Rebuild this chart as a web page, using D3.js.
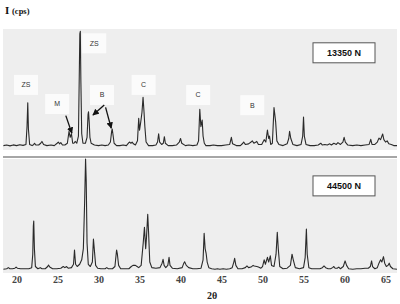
<!DOCTYPE html>
<html>
<head>
<meta charset="utf-8">
<script src="https://cdn.jsdelivr.net/npm/d3@7/dist/d3.min.js"></script>
<style>
  body { margin: 0; background: #fff; }
  svg { display: block; }
</style>
</head>
<body>
<script>
// diffractogram traces: [2theta, intensity (0-100)]
var topTrace = [[18.4,2],[18.8,2.5],[19.2,1.8],[19.6,2.6],[20.0,2],[20.4,2.8],[20.8,2.2],[21.15,3],[21.28,18],[21.37,38],[21.45,16],[21.6,3],[21.9,2],[22.1,3],[22.2,4],[22.35,2.5],[22.7,2.5],[22.95,4],[23.1,5.5],[23.3,3],[23.7,2],[24.2,2.5],[24.6,2],[24.95,4],[25.1,5],[25.25,3.5],[25.4,4.5],[25.6,2.5],[25.9,2.5],[26.2,4],[26.4,14],[26.55,9],[26.7,12],[26.85,4],[27.0,4],[27.15,5.5],[27.35,4],[27.55,10],[27.65,60],[27.72,96],[27.78,98],[27.85,55],[27.95,12],[28.1,4],[28.4,4],[28.6,9],[28.72,28],[28.78,30.5],[28.86,22],[28.95,9],[29.1,4],[29.5,2.5],[30.0,2],[30.4,2.5],[30.8,2],[31.2,2.5],[31.45,5],[31.6,14],[31.67,16],[31.75,12],[31.9,4],[32.2,2],[32.6,2],[33.0,2.5],[33.4,2],[33.7,4.5],[33.8,5],[33.95,4],[34.1,5],[34.25,3.5],[34.5,2.5],[34.75,6],[34.9,25],[35.0,15],[35.15,22],[35.3,30],[35.43,42.6],[35.55,30],[35.65,18],[35.8,5],[36.1,2],[36.6,2],[37.0,2.5],[37.2,5],[37.33,12],[37.45,5],[37.7,3],[37.9,4],[38.03,9.5],[38.15,4],[38.5,2],[39.0,2],[39.5,2.5],[39.85,5],[40.0,8],[40.15,4],[40.6,2],[41.0,2.5],[41.5,2],[42.0,2.5],[42.2,6],[42.35,32.5],[42.48,18],[42.64,23.5],[42.75,10],[42.9,4],[43.1,2],[43.6,2],[44.0,2.5],[44.5,2],[45.0,2],[45.5,2.5],[46.0,3],[46.2,9],[46.35,3.5],[46.8,2],[47.3,2],[47.6,4],[47.7,5],[47.9,3],[48.3,3.5],[48.6,5],[48.75,6],[48.95,4],[49.2,5],[49.3,5.5],[49.5,3],[49.9,3],[50.2,7],[50.4,5],[50.6,15],[50.75,8],[50.85,10],[51.0,3],[51.2,4],[51.4,34],[51.5,28],[51.6,22],[51.75,6],[52.0,3],[52.5,2],[53.0,3.5],[53.2,8],[53.3,14],[53.45,8],[53.7,3],[54.2,2],[54.7,3],[54.9,10],[55.0,26],[55.1,10],[55.3,3],[55.8,2],[56.3,2],[56.8,2.5],[57.1,4],[57.3,2.5],[57.6,3],[57.9,2.5],[58.2,3.5],[58.4,2.5],[58.7,4],[59.0,3],[59.2,4.5],[59.5,3],[59.8,5],[59.95,9],[60.1,5],[60.4,2.5],[61.0,2],[61.5,2.5],[62.0,2],[62.5,2.5],[63.0,3],[63.2,7.3],[63.35,3],[63.7,3],[64.0,5],[64.2,8.3],[64.4,7],[64.65,11.8],[64.8,7],[65.0,5],[65.2,6],[65.4,3.5],[65.7,3],[66.0,2],[66.4,2]];

var bottomTrace = [[18.4,1.5],[18.8,2],[19.0,3],[19.2,2],[19.5,2],[19.8,2.5],[19.95,3.5],[20.1,2.5],[20.5,2],[21.0,2],[21.5,2],[21.85,3],[21.98,15],[22.05,40],[22.1,44.6],[22.18,20],[22.3,4],[22.6,2],[22.9,3],[23.1,2],[23.5,2],[23.8,4],[23.9,5.4],[24.05,3.5],[24.4,2],[24.9,2],[25.4,2.5],[25.7,4],[25.9,3],[26.1,4],[26.3,2.5],[26.7,3],[26.95,6],[27.07,18.8],[27.2,6],[27.4,4],[27.7,6],[27.95,10],[28.15,20],[28.3,60],[28.42,100],[28.5,80],[28.6,25],[28.75,6],[29.0,4],[29.25,8],[29.38,28.6],[29.5,18],[29.65,5],[29.9,2.5],[30.3,2],[30.8,2],[31.0,3],[31.2,2],[31.7,2],[32.0,4],[32.2,18.8],[32.3,15],[32.45,5],[32.7,2],[33.2,2],[33.7,2],[34.0,4],[34.2,5],[34.5,5],[34.7,4],[34.9,3],[35.2,5],[35.45,25],[35.6,39],[35.75,20],[35.85,30],[36.0,50.6],[36.1,35],[36.25,8],[36.5,3],[37.0,2.5],[37.5,3],[37.75,7],[37.87,10.4],[38.0,5],[38.2,3],[38.45,5],[38.6,12.2],[38.72,5],[39.0,2.5],[39.6,2],[40.2,3],[40.4,7],[40.5,8.3],[40.7,5],[41.0,3],[41.5,2],[42.0,2],[42.5,2.5],[42.75,10],[42.88,33.6],[43.0,20],[43.12,15.8],[43.25,8],[43.45,3],[43.8,2],[44.2,1.5],[44.5,2],[44.8,1.5],[45.2,2],[45.6,1.5],[46.0,2],[46.3,3],[46.5,8],[46.6,11.3],[46.75,5],[47.0,2],[47.5,2],[47.9,3],[48.1,4.5],[48.3,3],[48.6,3.5],[48.85,5],[49.0,4.5],[49.3,4],[49.5,3.5],[49.8,2.5],[50.0,4],[50.2,10],[50.35,6],[50.6,12.2],[50.75,8],[50.95,13.5],[51.1,5],[51.4,4],[51.65,15],[51.8,34.5],[51.92,20],[52.1,4],[52.5,2],[53.0,2.5],[53.4,5],[53.6,15],[53.75,10],[54.0,3],[54.5,2],[55.0,3],[55.2,12],[55.35,37.5],[55.45,15],[55.65,3],[56.0,2],[56.5,2],[57.0,2],[57.3,3],[57.5,4.5],[57.7,3],[58.0,2],[58.3,2],[58.55,3],[58.7,4],[58.85,2.5],[59.1,2.5],[59.3,3.5],[59.5,2],[59.85,4],[60.07,9],[60.25,5],[60.5,2],[61.0,1.5],[61.5,2],[62.0,2],[62.5,2.5],[62.9,2.5],[63.15,4],[63.3,9],[63.42,4],[63.7,2],[64.0,3],[64.2,7],[64.4,10],[64.55,8],[64.75,12.8],[64.9,7],[65.1,4],[65.3,5],[65.45,7],[65.6,4],[65.9,2],[66.4,1.5]];

var xTicks = [20, 25, 30, 35, 40, 45, 50, 55, 60, 65];
var panelNames = ["13350 N", "44500 N"];

// phase labels on the upper trace: [text, 2theta, intensity]
var phaseLabels = [["ZS",21.16,53],["M",24.95,37],["ZS",29.47,88],["B",30.42,44.5],["C",35.5,53],["C",42.15,44.5],["B",48.75,36]];
// arrows: [from 2theta, from I, to 2theta, to I]
var phaseArrows = [[26.01,27.2,26.75,12.4],[30.7,36.1,29.32,27.7],[30.86,34.2,31.55,16.6]];

var W = 400, H = 304;
var svg = d3.select("body").append("svg").attr("width", W).attr("height", H);

var x = d3.scaleLinear().domain([18.35, 66.4]).range([3, 397]);
var yTop = d3.scaleLinear().domain([0, 100]).range([148, 29]);
var yBot = d3.scaleLinear().domain([0, 100]).range([271, 159]);

svg.append("defs").append("marker")
    .attr("id", "head").attr("viewBox", "0 0 10 10")
    .attr("refX", 9).attr("refY", 5)
    .attr("markerWidth", 5).attr("markerHeight", 5)
    .attr("orient", "auto")
  .append("path").attr("d", "M0,0L10,5L0,10z").attr("fill", "#111");

// panel backgrounds
svg.append("rect").attr("x", 3).attr("y", 29).attr("width", 394).attr("height", 121).attr("fill", "#eeeeee");
svg.append("rect").attr("x", 3).attr("y", 159).attr("width", 394).attr("height", 114).attr("fill", "#eeeeee");
svg.append("rect").attr("x", 3).attr("y", 156).attr("width", 394).attr("height", 2).attr("fill", "#a6a6a6");

// phase label boxes
var lab = svg.append("g").selectAll("g").data(phaseLabels).enter().append("g")
    .attr("transform", function(d) { return "translate(" + x(d[1]) + "," + yTop(d[2]) + ")"; });
lab.append("rect").attr("x", -12).attr("y", -10).attr("width", 24).attr("height", 20).attr("fill", "#fbfbfb");
lab.append("text").attr("text-anchor", "middle").attr("dy", "0.35em")
    .attr("font-family", "Liberation Sans, Arial, sans-serif").attr("font-size", 7).attr("fill", "#333")
    .text(function(d) { return d[0]; });

var line = function(ys) {
    return d3.line().x(function(d) { return x(d[0]); }).y(function(d) { return ys(d[1]); });
};

svg.append("path").datum(topTrace).attr("d", line(yTop))
    .attr("fill", "none").attr("stroke", "#2a2a2a").attr("stroke-width", 1.1).attr("stroke-linejoin", "round");
svg.append("path").datum(bottomTrace).attr("d", line(yBot))
    .attr("fill", "none").attr("stroke", "#2a2a2a").attr("stroke-width", 1.1).attr("stroke-linejoin", "round");

svg.append("g").selectAll("line").data(phaseArrows).enter().append("line")
    .attr("x1", function(d) { return x(d[0]); }).attr("y1", function(d) { return yTop(d[1]); })
    .attr("x2", function(d) { return x(d[2]); }).attr("y2", function(d) { return yTop(d[3]); })
    .attr("stroke", "#111").attr("stroke-width", 1.3).attr("marker-end", "url(#head)");

// sample boxes
var boxY = [yTop(80), yBot(76)];
var boxes = svg.append("g").selectAll("g").data(panelNames).enter().append("g")
    .attr("transform", function(d, i) { return "translate(344," + boxY[i] + ")"; });
boxes.append("rect").attr("x", -31).attr("y", -10).attr("width", 62).attr("height", 20)
    .attr("fill", "#fff").attr("stroke", "#555").attr("stroke-width", 1);
boxes.append("text").attr("text-anchor", "middle").attr("dy", "0.36em")
    .attr("font-family", "Liberation Sans, Arial, sans-serif").attr("font-weight", "bold")
    .attr("font-size", 9).attr("fill", "#111").text(function(d) { return d; });

// x axis labels
var ax = svg.append("g").attr("transform", "translate(0,276)")
    .call(d3.axisBottom(x).tickValues(xTicks).tickSize(0).tickPadding(0));
ax.select(".domain").remove();
ax.selectAll("text").attr("font-family", "Liberation Serif, Times New Roman, serif")
    .attr("font-weight", "bold").attr("font-size", 10).attr("fill", "#444");

svg.append("text").attr("x", 212).attr("y", 299).attr("text-anchor", "middle")
    .attr("font-family", "Liberation Serif, Times New Roman, serif").attr("font-weight", "bold")
    .attr("font-size", 10).attr("fill", "#222").text("2θ");

var yl = svg.append("text").attr("x", 5).attr("y", 14)
    .attr("font-family", "Liberation Serif, Times New Roman, serif").attr("font-weight", "bold").attr("fill", "#111");
yl.append("tspan").attr("font-size", 11).text("I ");
yl.append("tspan").attr("font-size", 8.5).text("(cps)");
</script>
</body>
</html>
